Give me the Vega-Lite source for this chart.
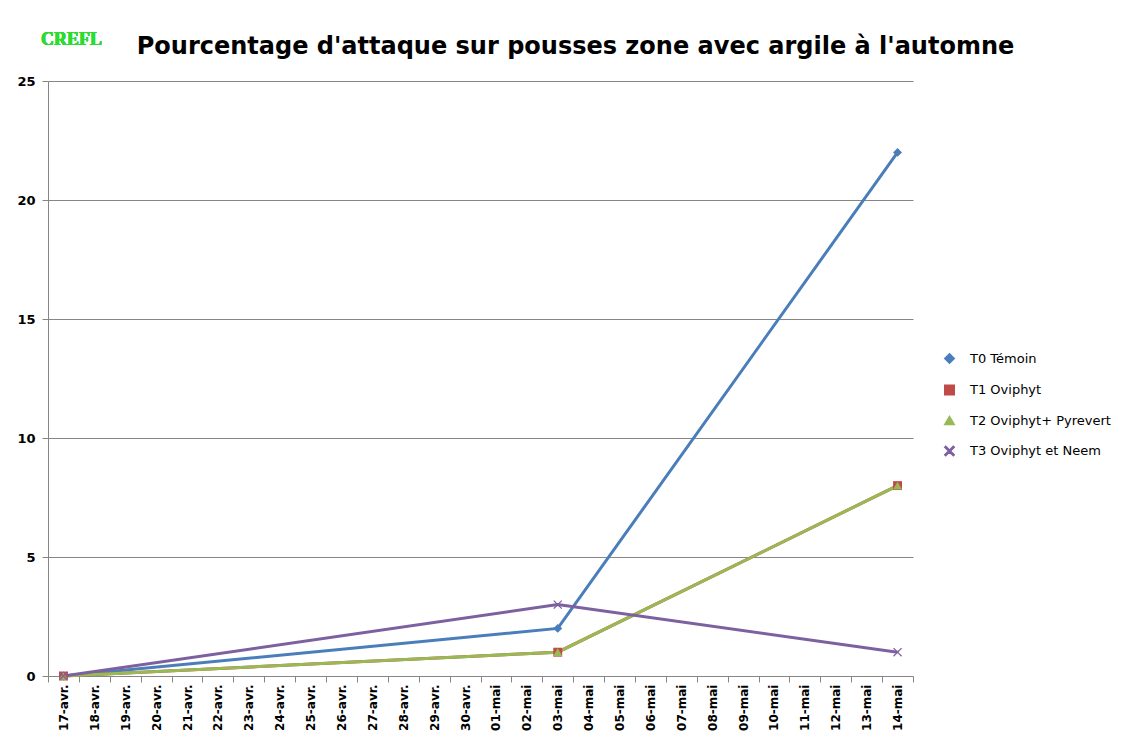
{
  "$schema": "https://vega.github.io/schema/vega-lite/v6.json",
  "autosize": {"type": "none"},
  "padding": {"left": 48, "top": 81, "right": 219, "bottom": 65},
  "width": 865,
  "height": 595,
  "background": "white",
  "title": {
    "text": "Pourcentage d'attaque sur pousses zone avec argile à l'automne",
    "font": "DejaVu Sans",
    "fontSize": 24,
    "fontWeight": "bold",
    "color": "black",
    "anchor": "middle",
    "dx": 95,
    "baseline": "alphabetic",
    "offset": -47
  },
  "config": {
    "view": {"stroke": null},
    "axis": {
      "labelFont": "DejaVu Sans",
      "labelFontWeight": "bold",
      "labelColor": "black",
      "domainColor": "#868686",
      "tickColor": "#868686",
      "gridColor": "#868686",
      "tickSize": 6,
      "title": null
    },
    "legend": {
      "labelFont": "DejaVu Sans",
      "labelFontSize": 13,
      "labelColor": "black"
    }
  },
  "data": {
    "values": [
      {"date": "17-avr.", "series": "T0 Témoin", "value": 0},
      {"date": "03-mai", "series": "T0 Témoin", "value": 2},
      {"date": "14-mai", "series": "T0 Témoin", "value": 22},
      {"date": "17-avr.", "series": "T1 Oviphyt", "value": 0},
      {"date": "03-mai", "series": "T1 Oviphyt", "value": 1},
      {"date": "14-mai", "series": "T1 Oviphyt", "value": 8},
      {"date": "17-avr.", "series": "T2 Oviphyt+ Pyrevert", "value": 0},
      {"date": "03-mai", "series": "T2 Oviphyt+ Pyrevert", "value": 1},
      {"date": "14-mai", "series": "T2 Oviphyt+ Pyrevert", "value": 8},
      {"date": "17-avr.", "series": "T3 Oviphyt et Neem", "value": 0},
      {"date": "03-mai", "series": "T3 Oviphyt et Neem", "value": 3},
      {"date": "14-mai", "series": "T3 Oviphyt et Neem", "value": 1}
    ]
  },
  "encoding": {
    "x": {
      "field": "date",
      "type": "ordinal",
      "sort": null,
      "scale": {
        "type": "band",
        "paddingInner": 0,
        "paddingOuter": 0,
        "domain": ["17-avr.", "18-avr.", "19-avr.", "20-avr.", "21-avr.", "22-avr.", "23-avr.", "24-avr.", "25-avr.", "26-avr.", "27-avr.", "28-avr.", "29-avr.", "30-avr.", "01-mai", "02-mai", "03-mai", "04-mai", "05-mai", "06-mai", "07-mai", "08-mai", "09-mai", "10-mai", "11-mai", "12-mai", "13-mai", "14-mai"]
      },
      "axis": {
        "labelAngle": -90,
        "labelFontSize": 12,
        "labelPadding": 2,
        "tickBand": "extent",
        "grid": false,
        "labelOverlap": false
      }
    },
    "y": {
      "field": "value",
      "type": "quantitative",
      "scale": {"domain": [0, 25], "nice": false},
      "axis": {
        "values": [0, 5, 10, 15, 20, 25],
        "labelFontSize": 13,
        "labelPadding": 7,
        "grid": true
      }
    },
    "color": {
      "field": "series",
      "type": "nominal",
      "scale": {
        "domain": ["T0 Témoin", "T1 Oviphyt", "T2 Oviphyt+ Pyrevert", "T3 Oviphyt et Neem"],
        "range": ["#4A7EBB", "#BE4B48", "#98B954", "#7D60A0"]
      },
      "legend": {
        "title": null,
        "orient": "none",
        "legendX": 895,
        "legendY": 271,
        "rowPadding": 14.5,
        "symbolSize": 90,
        "labelOffset": 14
      }
    }
  },
  "layer": [
    {
      "mark": {"type": "line", "strokeWidth": 3}
    },
    {
      "mark": {"type": "point", "filled": true, "size": 80, "opacity": 1},
      "encoding": {
        "shape": {
          "field": "series",
          "type": "nominal",
          "scale": {
            "domain": ["T0 Témoin", "T1 Oviphyt", "T2 Oviphyt+ Pyrevert", "T3 Oviphyt et Neem"],
            "range": ["diamond", "square", "triangle-up", "M-1,-0.8L-0.8,-1L0,-0.2L0.8,-1L1,-0.8L0.2,0L1,0.8L0.8,1L0,0.2L-0.8,1L-1,0.8L-0.2,0Z"]
          },
          "legend": {
            "title": null,
            "orient": "none",
            "legendX": 895,
            "legendY": 271,
            "rowPadding": 14.5,
            "symbolSize": 90,
            "labelOffset": 14
          }
        }
      }
    },
    {
      "mark": {
        "type": "text",
        "text": "CREFL",
        "font": "Liberation Serif",
        "fontSize": 18,
        "fontWeight": "bold",
        "color": "#2EDB2E",
        "clip": false,
        "dx": 8,
        "dy": 2
      },
      "encoding": {
        "x": {"datum": "17-avr."},
        "y": {"datum": 26.8},
        "color": {"value": "#2EDB2E"}
      }
    }
  ]
}
